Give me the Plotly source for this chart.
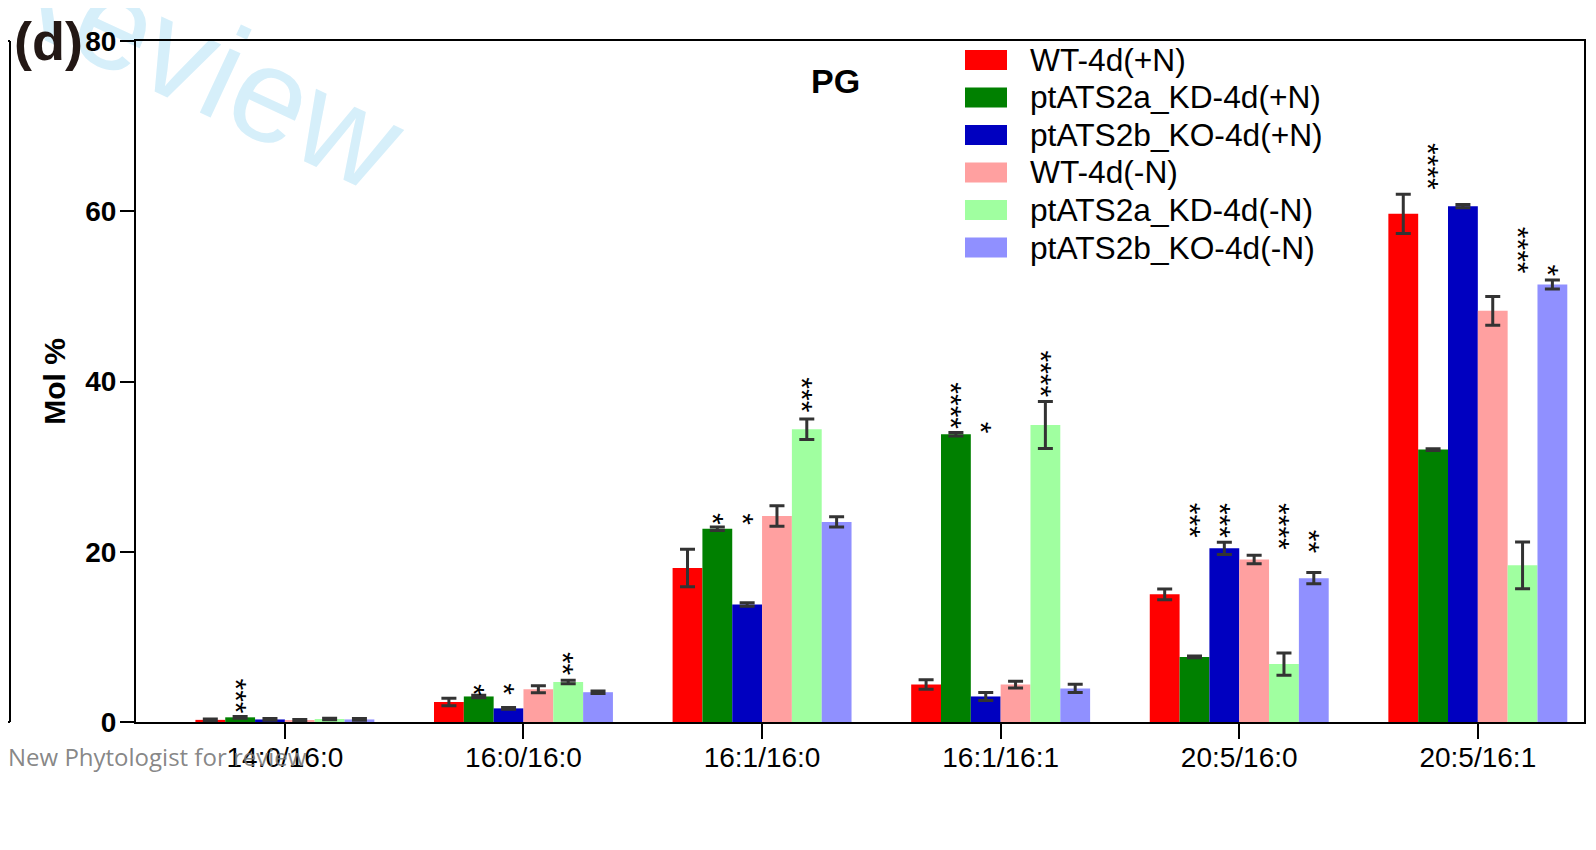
import plotly.graph_objects as go

# PG molecular species, Mol %
categories = ["14:0/16:0", "16:0/16:0", "16:1/16:0", "16:1/16:1", "20:5/16:0", "20:5/16:1"]

series_names = ["WT-4d(+N)", "ptATS2a_KD-4d(+N)", "ptATS2b_KO-4d(+N)",
                "WT-4d(-N)", "ptATS2a_KD-4d(-N)", "ptATS2b_KO-4d(-N)"]
series_colors = ["#ff0000", "#008000", "#0000c0", "#ffa0a0", "#a0ffa0", "#9090ff"]

wt_pn = [0.25, 2.35, 18.1, 4.4, 15.0, 59.7]
kd_pn = [0.55, 3.0, 22.7, 33.8, 7.65, 32.0]
ko_pn = [0.3, 1.6, 13.8, 3.0, 20.4, 60.6]
wt_mn = [0.2, 3.85, 24.2, 4.4, 19.1, 48.3]
kd_mn = [0.35, 4.7, 34.4, 34.9, 6.8, 18.4]
ko_mn = [0.3, 3.5, 23.5, 3.95, 16.9, 51.4]

wt_pn_err = [0.1, 0.43, 2.2, 0.55, 0.63, 2.3]
kd_pn_err = [0.1, 0.15, 0.2, 0.2, 0.1, 0.1]
ko_pn_err = [0.1, 0.1, 0.2, 0.47, 0.72, 0.2]
wt_mn_err = [0.1, 0.4, 1.2, 0.4, 0.5, 1.7]
kd_mn_err = [0.1, 0.2, 1.2, 2.76, 1.3, 2.76]
ko_mn_err = [0.1, 0.15, 0.6, 0.47, 0.66, 0.53]

values = [wt_pn, kd_pn, ko_pn, wt_mn, kd_mn, ko_mn]
errors = [wt_pn_err, kd_pn_err, ko_pn_err, wt_mn_err, kd_mn_err, ko_mn_err]

# significance marks: (category index, series index, stars, centre of the marks in Mol %)
stars = [
    (0, 1, "***", 3.1),
    (1, 1, "*", 3.8), (1, 2, "*", 3.9), (1, 4, "**", 6.8),
    (2, 1, "*", 23.8), (2, 2, "*", 23.8), (2, 4, "***", 38.4),
    (3, 1, "****", 37.1), (3, 2, "*", 34.6), (3, 4, "****", 40.9),
    (4, 1, "***", 23.7), (4, 2, "***", 23.7), (4, 4, "****", 22.9), (4, 5, "**", 21.2),
    (5, 1, "****", 65.3), (5, 4, "****", 55.4), (5, 5, "*", 53.0),
]

# page body keeps an 8px margin, so the figure is a bit smaller than the window
OFF = 8
W, H = 1580, 834
L, R, T, B = 128, 4, 33, 120
BAR_W = 0.125


def px(x):
    # screen x -> paper fraction
    return (x - OFF - L) / (W - L - R)


def py(y):
    # screen y -> paper fraction
    return (H - B - (y - OFF)) / (H - T - B)


fig = go.Figure()
for name, color, vals, errs in zip(series_names, series_colors, values, errors):
    fig.add_trace(go.Bar(
        x=list(range(len(categories))), y=vals, name=name,
        marker=dict(color=color, line=dict(width=0)),
        error_y=dict(type="data", array=errs, visible=True,
                     color="#333333", thickness=3, width=7.5),
        showlegend=False,
    ))

annotations = []
for ci, si, txt, yv in stars:
    annotations.append(dict(
        x=ci + (si - 2.5) * BAR_W, y=yv, xref="x", yref="y", text=txt,
        textangle=90, showarrow=False, xanchor="center", yanchor="middle", xshift=-4,
        font=dict(family="Liberation Sans, Arial", size=30, color="black"),
    ))

# watermark as a shape label so it stays under the axis labels
shapes = [dict(
    type="rect", xref="paper", yref="paper", layer="below",
    x0=px(200 - 200), x1=px(200 + 200), y0=py(47 + 100), y1=py(47 - 100),
    line=dict(width=0), fillcolor="rgba(0,0,0,0)",
    label=dict(text="Review", textangle=25, textposition="middle center",
               font=dict(family="Liberation Sans, Arial", size=134, color="#d6effa")),
)]

# legend drawn as blocks + text to match the original layout
for k, (name, color) in enumerate(zip(series_names, series_colors)):
    yc = 60 + k * 37.5
    shapes.append(dict(type="rect", xref="paper", yref="paper",
                       x0=px(965), x1=px(1007), y0=py(yc + 10), y1=py(yc - 10),
                       fillcolor=color, line=dict(width=0)))
    annotations.append(dict(x=px(1028), y=py(yc), xref="paper", yref="paper",
                            text=name, showarrow=False, xanchor="left", yanchor="middle",
                            font=dict(family="Liberation Sans, Arial", size=31.7, color="black")))

# edge of the neighbouring panel
shapes.append(dict(type="line", xref="paper", yref="paper", x0=px(10), x1=px(10),
                   y0=py(722), y1=py(41), line=dict(color="black", width=2)))
shapes.append(dict(type="line", xref="paper", yref="paper", x0=px(0), x1=px(10),
                   y0=py(41), y1=py(41), line=dict(color="black", width=2)))
shapes.append(dict(type="line", xref="paper", yref="paper", x0=px(0), x1=px(10),
                   y0=py(722), y1=py(722), line=dict(color="black", width=2)))

annotations += [
    dict(x=px(835), y=py(81), xref="paper", yref="paper", text="<b>PG</b>",
         showarrow=False, xanchor="center", yanchor="middle",
         font=dict(family="Liberation Sans, Arial", size=34, color="black")),
    dict(x=px(12), y=py(41), xref="paper", yref="paper", text="<b>(d)</b>",
         showarrow=False, xanchor="left", yanchor="middle",
         font=dict(family="Liberation Sans, Arial", size=54, color="#231815")),
    dict(x=px(6), y=py(756), xref="paper", yref="paper", text="New Phytologist for review",
         showarrow=False, xanchor="left", yanchor="middle",
         font=dict(family="Open Sans", size=24, color="rgba(120,120,120,0.9)")),
]

fig.update_layout(
    width=W, height=H,
    margin=dict(l=L, r=R, t=T, b=B, autoexpand=False),
    plot_bgcolor="rgba(0,0,0,0)", paper_bgcolor="white",
    barmode="group", bargap=0.25, bargroupgap=0,
    font=dict(family="Liberation Sans, Arial", color="black"),
    annotations=annotations, shapes=shapes,
)
fig.update_xaxes(
    range=[-0.624, 5.445], tickmode="array", automargin=False,
    tickvals=list(range(len(categories))), ticktext=categories,
    showline=True, linecolor="black", linewidth=2, mirror=True,
    ticks="outside", ticklen=15, tickwidth=2, tickcolor="black",
    tickfont=dict(size=28), ticklabelstandoff=-6, showgrid=False, zeroline=False,
)
fig.update_yaxes(
    range=[0, 80], tickvals=[0, 20, 40, 60, 80], automargin=False,
    showline=True, linecolor="black", linewidth=2, mirror=True,
    ticks="outside", ticklen=14, tickwidth=2, tickcolor="black",
    tickfont=dict(size=28, weight="bold"), ticklabelstandoff=-2,
    showgrid=False, zeroline=False,
    title=dict(text="<b>Mol %</b>", font=dict(size=30), standoff=11),
)

fig.write_html("out.html")
